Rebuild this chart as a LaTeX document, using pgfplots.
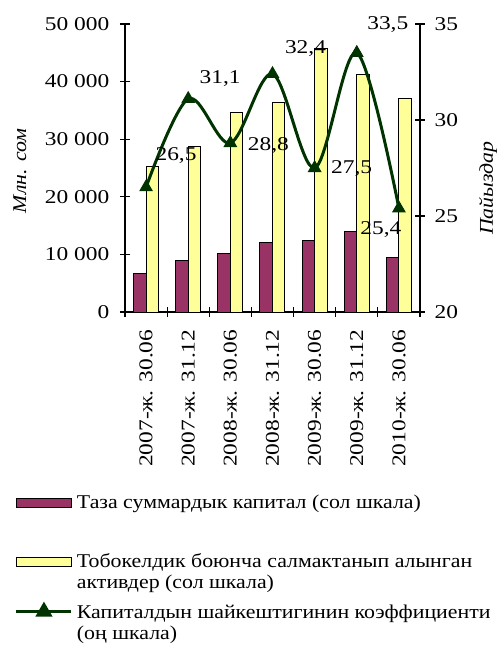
\documentclass[border=0pt]{standalone}
\usepackage{fontspec}
\setmainfont{Liberation Serif}[FakeStretch=1.12]
\newfontfamily\numfont{Liberation Serif}[FakeStretch=1.2]
\usepackage{pgfplots}
\pgfplotsset{compat=1.18}
\definecolor{plum}{HTML}{993366}
\definecolor{pale}{HTML}{FFFF99}
\definecolor{dkgreen}{HTML}{003300}
% legend row with fixed height (H) and depth 5pt
\newcommand\lrow[2]{\rule[-5pt]{0pt}{#1}#2}
\pgfplotsset{
  rectlegend/.style={legend image code/.code={\draw[##1,/tikz/.cd] (0pt,1pt) rectangle (55pt,10pt);}},
  trilegend/.style={legend image code/.code={\draw[mark repeat=2,mark phase=2,##1] plot coordinates {(0pt,7pt) (27.5pt,7pt) (55pt,7pt)};}},
  base/.style={
    width=295pt, height=288pt, scale only axis,
    xmin=-0.5, xmax=6.5,
    tick align=center,
    major tick length=10pt, minor tick length=10pt,
    /pgf/number format/assume math mode=true,
    tick label style={font=\numfont},
    axis line style={line width=1.2pt},
    every tick/.style={line width=1.2pt, black},
    clip=false,
  }
}

\begin{document}
\fontsize{19.5}{23}\selectfont
\begin{tikzpicture}
\begin{axis}[base,
  axis y line*=left, axis x line*=bottom,
  ymin=0, ymax=50000, ytick={0,10000,...,50000},
  scaled y ticks=false,
  yticklabel style={/pgf/number format/1000 sep={\ }},
  yticklabel shift=4pt,
  xtick={0,...,6},
  xticklabels={2007-ж. 30.06, 2007-ж. 31.12, 2008-ж. 30.06, 2008-ж. 31.12, 2009-ж. 30.06, 2009-ж. 31.12, 2010-ж. 30.06},
  x tick label style={rotate=90, anchor=east},
  xticklabel shift=6pt,
  major x tick style={draw=none},
  minor xtick={-0.5,0.5,...,6.5},
  ylabel={\itshape Млн. сом},
  every axis y label/.style={at={(axis description cs:-0.356,0.49)}, rotate=90, anchor=center},
  legend style={at={(axis description cs:-0.373,-0.635)}, anchor=north west,
    draw=none, fill=none, inner sep=0pt, outer sep=0pt, row sep=0pt, column sep=4pt,
    nodes={inner sep=0pt, anchor=base west}},
]
\coordinate (bl) at (rel axis cs:0,0);
\addplot[ybar, bar width=12.5pt, bar shift=-6.25pt, fill=plum, draw=black, line width=1pt, rectlegend]
  coordinates {(0,6600) (1,9000) (2,10100) (3,12150) (4,12500) (5,13900) (6,9400)};
\addlegendentry{\lrow{19pt}{Таза суммардык капитал (сол шкала)}}
\addplot[ybar, bar width=12.5pt, bar shift=6.25pt, fill=pale, draw=black, line width=1pt, rectlegend]
  coordinates {(0,25200) (1,28650) (2,34700) (3,36450) (4,45800) (5,41300) (6,37000)};
\addlegendentry{\lrow{61pt}{Тобокелдик боюнча салмактанып алынган}}
\addlegendimage{empty legend}
\addlegendentry{\lrow{23pt}{активдер (сол шкала)}}
\addlegendimage{dkgreen, line width=3pt, mark=triangle*, mark size=7pt, trilegend}
\addlegendentry{\lrow{32pt}{Капиталдын шайкештигинин коэффициенти}}
\addlegendimage{empty legend}
\addlegendentry{\lrow{23pt}{(оң шкала)}}
\end{axis}

\begin{axis}[base,
  axis y line*=right, axis x line=none,
  ymin=20, ymax=35, ytick={20,25,30,35},
  yticklabel shift=3pt,
  ylabel={\itshape Пайыздар},
  every axis y label/.style={at={(axis description cs:1.2305,0.43)}, rotate=90, anchor=center},
]
\addplot[dkgreen, line width=3pt, smooth, tension=0.55,
  mark=triangle*, mark size=7pt, mark options={line width=1pt},
  visualization depends on={\thisrow{dx} \as \dx},
  visualization depends on={\thisrow{dy} \as \dy},
  nodes near coords={\pgfmathprintnumber[fixed, fixed zerofill, precision=1, use comma]{\pgfplotspointmeta}},
  every node near coord/.append style={anchor=center, xshift=\dx pt, yshift=\dy pt, text=black, font=\numfont}]
  table[x=x, y=y, meta=y] {
x y dx dy
0 26.5 30 32
1 31.1 32 20
2 28.8 38 -2
3 32.4 33 25
4 27.5 37 -1
5 33.5 31 28
6 25.4 -18 -21
};
\end{axis}
\pgfresetboundingbox
\path (bl) ++(-125pt,-342pt) rectangle ++(500pt,654pt);
\end{tikzpicture}
\end{document}
